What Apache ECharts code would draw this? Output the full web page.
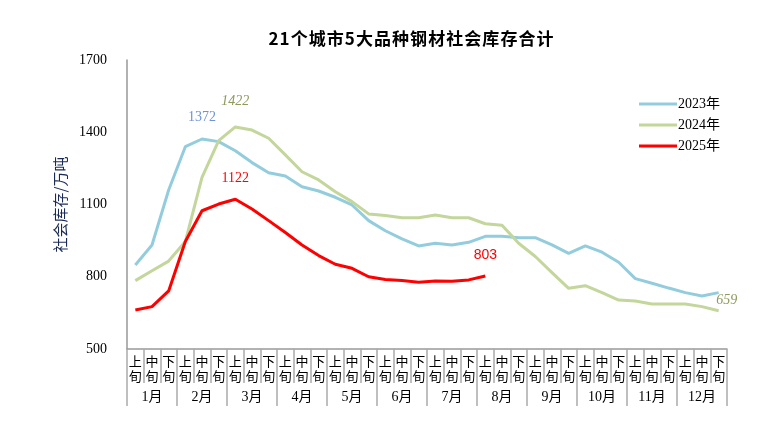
<!DOCTYPE html>
<html>
<head>
<meta charset="utf-8">
<script src="https://cdn.jsdelivr.net/npm/echarts@6/dist/echarts.min.js"></script>
<style>html,body{margin:0;padding:0;background:#fff}#c{width:772px;height:442px}</style>
</head>
<body>
<div id="c"></div>
<script>
var months = ['1月','2月','3月','4月','5月','6月','7月','8月','9月','10月','11月','12月'];
var periods = ['上旬','中旬','下旬'];
var yTicks = [500, 800, 1100, 1400, 1700];
var s2023 = [849,932,1160,1340,1372,1361,1323,1274,1232,1218,1174,1156,1130,1098,1033,991,957,928,939,932,943,968,968,962,962,932,897,928,902,860,792,773,753,734,720,734];
var s2024 = [784,825,865,946,1213,1365,1422,1409,1375,1306,1236,1202,1153,1112,1061,1054,1045,1045,1056,1045,1045,1020,1014,939,884,817,752,763,734,703,699,687,687,687,676,659];
var s2025 = [662,676,741,946,1074,1102,1122,1081,1033,984,932,888,852,835,800,789,784,777,782,781,787,803];

var categories = [];
months.forEach(function(m){ periods.forEach(function(p){ categories.push(m + p); }); });

var serif = '"Liberation Serif","Noto Sans CJK SC",serif';
var cjk = '"Noto Sans CJK SC",sans-serif';
var titleText = '21个城市5大品种钢材社会库存合计';

function withLabels(arr, marks) {
  return arr.map(function(v, i){
    if (marks[i]) return { value: v, label: Object.assign({ show: true, formatter: String(v) }, marks[i]) };
    return v;
  });
}

var chart = echarts.init(document.getElementById('c'));
chart.setOption({
  animation: false,
  backgroundColor: '#fff',
  title: {
    text: titleText.split('').join('\u200a'),
    left: 406, top: 25, textAlign: 'center',
    textStyle: { fontSize: 17, fontWeight: 'bold', color: '#000', fontFamily: cjk }
  },
  legend: {
    orient: 'vertical', left: 634, top: 92,
    icon: 'rect', itemWidth: 38, itemHeight: 3, itemGap: 7,
    textStyle: { fontSize: 14, color: '#000', fontFamily: serif, padding: [0,0,0,-4] },
    data: ['2023年','2024年','2025年']
  },
  grid: { left: 127, right: 45, top: 60, bottom: 93 },
  xAxis: [{
    type: 'category', data: categories, boundaryGap: true,
    axisLine: { lineStyle: { color: '#999', width: 1.5 } },
    axisTick: { show: true, interval: 0, length: 34, lineStyle: { color: '#aaa', width: 1.5 } },
    axisLabel: {
      interval: 0, margin: 5, fontSize: 13, lineHeight: 15, color: '#000', fontFamily: cjk,
      formatter: function(v){ var s = v.slice(-2); return s[0] + '\n' + s[1]; }
    }
  }, {
    type: 'category', data: months, boundaryGap: true, position: 'bottom',
    axisLine: { show: false },
    axisTick: { show: true, interval: 0, length: 57, lineStyle: { color: '#aaa', width: 1.5 } },
    axisLabel: { interval: 0, margin: 41, fontSize: 14, color: '#000', fontFamily: serif }
  }],
  yAxis: {
    type: 'value', min: yTicks[0], max: yTicks[yTicks.length-1], interval: 300,
    name: '社会库存/万吨', nameLocation: 'middle', nameRotate: 90, nameGap: 54,
    nameTextStyle: { fontSize: 15, color: '#1a2a55', fontFamily: cjk },
    axisLine: { show: true, lineStyle: { color: '#999', width: 1.5 } },
    axisTick: { show: false },
    splitLine: { show: false },
    axisLabel: { fontSize: 14, color: '#000', fontFamily: serif, margin: 20, formatter: function(v){ return String(v); } }
  },
  series: [{
    name: '2023年', type: 'line', showSymbol: true, symbol: 'circle', symbolSize: 0.01,
    lineStyle: { color: '#93CDDD', width: 3 }, itemStyle: { color: '#93CDDD' },
    data: withLabels(s2023, { 4: { position: 'top', distance: 15, color: '#6e93d6', fontSize: 14, fontFamily: serif } })
  }, {
    name: '2024年', type: 'line', showSymbol: true, symbol: 'circle', symbolSize: 0.01,
    lineStyle: { color: '#C3D69B', width: 3 }, itemStyle: { color: '#C3D69B' },
    data: withLabels(s2024, {
      6: { position: 'top', distance: 19, color: '#8f9a5c', fontSize: 14, fontStyle: 'italic', fontFamily: serif },
      35: { position: 'top', distance: 3, offset: [8, 0], color: '#8f9a5c', fontSize: 14, fontStyle: 'italic', fontFamily: serif }
    })
  }, {
    name: '2025年', type: 'line', showSymbol: true, symbol: 'circle', symbolSize: 0.01,
    lineStyle: { color: '#FF0000', width: 3 }, itemStyle: { color: '#FF0000' },
    data: withLabels(s2025, {
      6: { position: 'top', distance: 14, color: '#ff0000', fontSize: 14, fontFamily: serif },
      21: { position: 'top', distance: 14, color: '#ff0000', fontSize: 14, fontFamily: '"Liberation Sans",Arial,sans-serif' }
    })
  }]
});
</script>
</body>
</html>
